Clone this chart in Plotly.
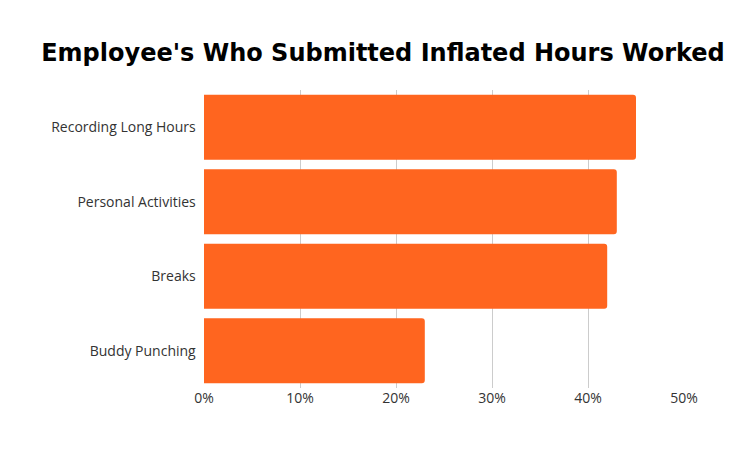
import plotly.graph_objects as go

categories = ["Recording Long Hours", "Personal Activities", "Breaks", "Buddy Punching"]
values = [45, 43, 42, 23]
tick_vals = [0, 10, 20, 30, 40, 50]
tick_text = ["0%", "10%", "20%", "30%", "40%", "50%"]

fig = go.Figure(go.Bar(
    x=values, y=categories, orientation="h",
    marker=dict(color="#FF651F", line=dict(width=0), cornerradius=3),
))
fig.update_layout(
    width=750, height=465,
    margin=dict(l=196, r=74, t=82, b=85, autoexpand=False),
    paper_bgcolor="white", plot_bgcolor="white",
    bargap=0.13,
    title=dict(text="<b>Employee's Who Submitted Inflated Hours Worked</b>",
               x=0.5, xanchor="center", y=0.905, yanchor="middle",
               font=dict(family="DejaVu Sans", size=24, color="black")),
    xaxis=dict(range=[0, 50], tickvals=tick_vals, ticktext=tick_text,
               showgrid=True, gridcolor="#CCCCCC", gridwidth=1, zeroline=False,
               tickfont=dict(family="Open Sans", size=14, color="#333333")),
    yaxis=dict(autorange="reversed", showgrid=False, ticksuffix="  ", automargin=False,
               tickfont=dict(family="Open Sans", size=14, color="#333333")),
    showlegend=False,
)
fig.write_html("out.html")
